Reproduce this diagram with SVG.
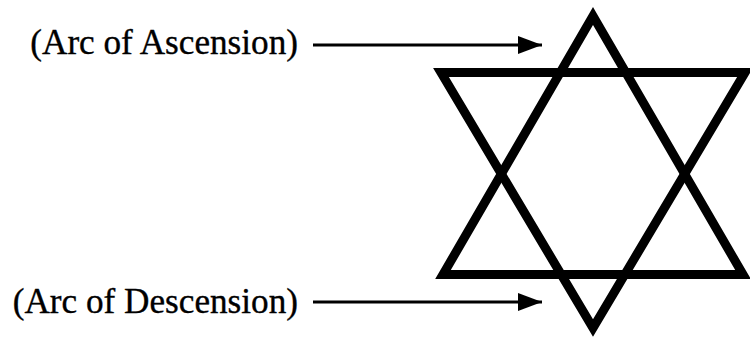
<svg xmlns="http://www.w3.org/2000/svg" width="750" height="341" viewBox="0 0 750 341">
<style>
.lbl{font-family:"Liberation Serif","Times New Roman",serif;font-size:35.2px;fill:#000;stroke:#000;stroke-width:0.35;text-anchor:end}
.tri{fill:none;stroke:#000;stroke-width:9;stroke-linejoin:miter;stroke-miterlimit:10}
.arr{stroke:#000;stroke-width:3}
</style>
<defs>
<marker id="ah" viewBox="0 0 24 18" refX="24" refY="9" markerWidth="24" markerHeight="18" markerUnits="userSpaceOnUse" orient="auto">
<path d="M0,0 L24,9 L0,18 Z" fill="#000"/>
</marker>
</defs>
<rect width="750" height="341" fill="#fff"/>
<g id="star">
<polygon class="tri" points="593,16 743,274.5 443,274.5"/>
<polygon class="tri" points="441,72.5 745,72.5 593,328"/>
</g>
<g id="label-ascension"><text class="lbl" x="298" y="54">(Arc of Ascension)</text></g>
<g id="label-descension"><text class="lbl" x="298" y="313">(Arc of Descension)</text></g>
<g id="connectors">
<line class="arr" x1="313" y1="45" x2="542" y2="45" marker-end="url(#ah)"/>
<line class="arr" x1="313" y1="302" x2="542" y2="302" marker-end="url(#ah)"/>
</g>
</svg>
